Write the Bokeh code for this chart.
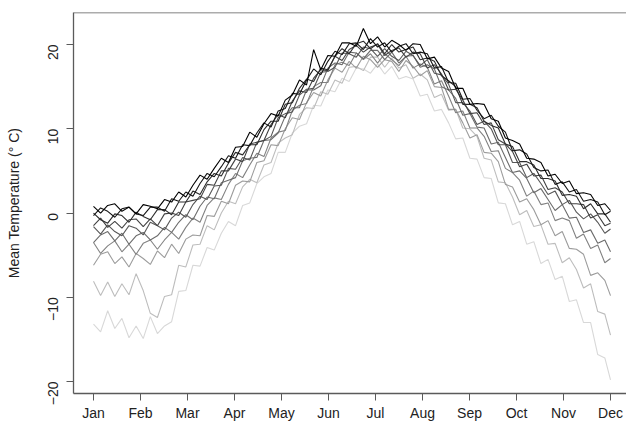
import math

from bokeh.plotting import figure
from bokeh.models import FixedTicker, Span, Range1d
from bokeh.embed import file_html
from bokeh.resources import INLINE

# Month labels placed at equally spaced ticks across the year
MONTHS = ["Jan", "Feb", "Mar", "Apr", "May", "Jun",
          "Jul", "Aug", "Sep", "Oct", "Nov", "Dec"]

# Day-of-year sampling grid shared by every curve
DAYS = list(range(1, 362, 5)) + [365]

# Mean daily temperature curves (deg C), warmest winter first
t01 = [0.8, 0.0, 0.9, 1.1, 0.2, 0.7, -0.1, 1.0, 0.8, 0.5,
       1.6, 1.3, 2.5, 1.9, 3.3, 4.5, 4.0, 5.3, 6.5, 6.0,
       7.8, 7.9, 9.6, 9.0, 10.6, 11.8, 11.5, 13.4, 14.0, 15.8,
       15.2, 19.4, 17.0, 18.7, 18.6, 20.2, 20.2, 19.8, 21.9, 20.1,
       20.9, 19.7, 20.5, 20.0, 19.3, 20.1, 20.0, 18.3, 18.5, 17.2,
       16.8, 14.8, 14.8, 12.9, 13.0, 12.9, 11.2, 10.9, 8.9, 8.6,
       8.2, 6.5, 6.4, 6.0, 4.4, 4.6, 3.5, 3.8, 2.3, 2.4,
       2.2, 0.9, 1.1, 0.3]
t02 = [-0.3, 0.6, 0.2, -0.5, 0.5, 0.7, -0.1, -0.3, 0.7, 0.7,
       0.2, 1.7, 1.4, 2.5, 2.0, 3.5, 4.7, 4.3, 5.5, 6.8,
       6.5, 8.1, 8.0, 9.5, 10.7, 10.2, 12.1, 12.4, 14.2, 14.1,
       15.8, 17.1, 16.4, 18.0, 19.2, 18.8, 20.1, 20.2, 19.4, 20.7,
       19.7, 20.2, 19.1, 19.8, 20.1, 18.9, 19.1, 18.9, 17.2, 17.4,
       15.5, 15.4, 13.5, 13.6, 12.2, 11.2, 11.6, 10.3, 9.6, 7.4,
       7.5, 7.0, 5.4, 5.0, 5.1, 3.4, 3.7, 2.5, 2.8, 1.4,
       1.6, 1.3, -0.2, 0.2]
t03 = [0.0, -0.8, -1.2, -0.1, -0.3, -1.1, 0.1, -0.4, -0.8, 0.4,
       0.4, -0.2, 1.3, 1.3, 2.6, 2.2, 3.7, 4.7, 4.4, 5.9,
       7.2, 6.9, 8.1, 8.1, 9.9, 10.9, 10.9, 12.9, 13.1, 14.8,
       15.9, 15.6, 17.2, 17.0, 18.6, 19.5, 18.9, 20.1, 20.4, 19.5,
       20.1, 18.9, 20.0, 19.1, 19.4, 19.7, 18.2, 18.4, 18.0, 16.3,
       15.7, 15.0, 12.9, 12.9, 12.5, 10.9, 10.4, 10.1, 8.2, 7.9,
       6.1, 6.1, 5.7, 4.1, 4.1, 3.8, 2.1, 2.2, 2.0, 0.5,
       1.1, -0.1, -0.1, -1.1]
t04 = [-1.5, -0.6, -1.7, -1.0, -1.8, -0.8, -0.7, -1.6, -0.7, -1.5,
       -0.1, 0.0, -0.3, 1.3, 1.5, 1.7, 3.4, 3.3, 5.0, 5.0,
       6.4, 6.1, 8.2, 8.4, 8.6, 10.5, 11.7, 11.3, 13.3, 14.5,
       14.3, 16.0, 17.0, 16.9, 18.6, 18.1, 19.4, 19.9, 19.1, 19.7,
       20.0, 18.7, 19.3, 19.6, 18.5, 19.1, 18.9, 17.2, 17.6, 16.5,
       14.6, 14.7, 13.4, 11.8, 11.9, 10.5, 10.7, 8.7, 8.2, 7.3,
       5.5, 5.8, 4.4, 4.5, 2.8, 3.0, 2.5, 1.1, 1.1, 1.0,
       -0.6, -0.2, -1.5, -1.2]
t05 = [-1.6, -2.5, -1.4, -2.2, -2.7, -1.5, -1.8, -2.6, -1.1, -1.5,
       -2.0, -0.6, 0.1, -0.5, 1.0, 2.0, 1.6, 3.2, 3.3, 5.3,
       5.2, 6.6, 6.3, 8.4, 8.6, 9.1, 11.3, 11.8, 12.0, 14.0,
       14.7, 14.8, 16.7, 16.8, 17.3, 19.0, 18.9, 18.5, 19.7, 19.5,
       18.6, 19.5, 18.6, 18.1, 19.2, 18.7, 17.5, 18.2, 16.6, 16.4,
       15.3, 13.1, 13.1, 12.1, 10.5, 10.9, 10.0, 8.1, 8.1, 6.0,
       6.0, 4.2, 4.7, 3.5, 2.2, 2.6, 1.0, 1.5, 0.1, -0.7,
       -0.1, -1.1, -2.4, -1.9]
t06 = [-3.5, -2.6, -2.2, -3.3, -2.4, -3.7, -2.7, -2.3, -3.2, -2.7,
       -1.7, -2.3, -1.1, -0.2, -0.8, 0.8, 1.9, 1.7, 3.6, 3.9,
       4.2, 6.2, 6.5, 6.6, 8.6, 8.7, 9.5, 11.5, 12.5, 12.5,
       14.6, 14.6, 15.1, 17.2, 17.8, 17.6, 19.1, 19.0, 18.3, 19.3,
       19.3, 18.2, 19.1, 17.8, 18.6, 18.7, 17.3, 17.6, 17.1, 15.0,
       14.6, 13.6, 11.6, 11.8, 10.2, 10.1, 8.2, 8.4, 6.6, 4.8,
       5.0, 4.1, 2.4, 2.9, 1.6, 0.3, 1.0, -0.6, -0.5, -2.3,
       -2.0, -3.6, -3.2, -4.6]
t07 = [-3.5, -4.8, -3.9, -3.3, -4.6, -3.7, -4.9, -3.6, -3.2, -4.3,
       -3.2, -2.3, -3.1, -1.7, -0.6, -1.1, 0.9, 1.8, 1.6, 3.4,
       4.7, 4.2, 5.7, 7.1, 6.7, 8.9, 9.6, 9.8, 12.2, 12.8,
       13.0, 15.0, 15.5, 15.5, 17.6, 17.9, 17.5, 19.0, 18.2, 18.9,
       17.8, 18.9, 18.2, 17.5, 18.6, 17.2, 17.7, 17.3, 15.3, 15.7,
       13.9, 11.9, 12.1, 10.1, 10.1, 9.1, 7.3, 7.4, 5.3, 4.8,
       3.9, 2.0, 2.6, 1.0, 1.2, -0.9, -0.6, -0.9, -3.0, -2.5,
       -4.2, -3.8, -5.9, -5.4]
t08 = [-6.2, -4.9, -4.6, -6.0, -5.2, -6.4, -4.8, -5.4, -6.1, -4.5,
       -5.3, -3.7, -4.8, -3.1, -2.6, -2.7, -0.3, -0.4, 1.4, 1.1,
       3.3, 3.8, 3.7, 6.0, 6.2, 8.1, 8.0, 10.0, 11.3, 11.1,
       13.1, 14.3, 13.9, 15.8, 17.2, 16.7, 18.0, 17.2, 18.6, 18.2,
       17.3, 18.2, 18.0, 16.8, 18.1, 17.4, 16.3, 16.9, 15.0, 14.9,
       12.3, 12.3, 10.7, 8.9, 9.3, 7.2, 7.1, 6.1, 3.4, 3.1,
       1.3, 1.7, 0.4, -1.4, -0.9, -2.7, -2.2, -4.2, -4.3, -4.9,
       -7.4, -7.1, -8.0, -9.8]
t09 = [-8.1, -9.8, -8.2, -9.9, -8.4, -9.7, -7.2, -9.2, -11.9, -12.4,
       -9.9, -9.7, -6.2, -6.4, -3.8, -3.7, -1.5, -2.0, 0.0, 1.4,
       1.1, 3.1, 4.0, 3.6, 5.7, 6.0, 8.3, 8.9, 9.3, 11.7,
       12.5, 12.4, 14.4, 14.1, 15.8, 15.4, 17.3, 17.4, 16.9, 18.5,
       18.5, 17.3, 18.4, 17.2, 17.6, 16.0, 16.5, 15.8, 13.7, 14.1,
       12.2, 12.3, 10.1, 10.0, 9.1, 6.5, 6.3, 3.7, 3.6, 1.9,
       -0.2, 0.3, -1.6, -1.4, -3.7, -3.6, -5.9, -5.3, -6.7, -8.9,
       -8.4, -11.7, -12.0, -14.5]
t10 = [-13.2, -14.1, -11.6, -13.7, -12.5, -14.8, -13.4, -14.9, -12.3, -14.3,
       -13.4, -12.9, -9.3, -9.2, -6.2, -6.3, -4.1, -4.4, -2.4, -1.0,
       -1.5, 0.9, 1.2, 3.5, 4.3, 4.7, 7.2, 7.2, 9.5, 10.3,
       10.6, 12.8, 12.7, 14.6, 14.4, 16.0, 15.6, 17.2, 17.1, 16.6,
       17.7, 16.5, 17.4, 15.9, 16.2, 15.9, 13.9, 14.1, 12.1, 12.3,
       10.7, 8.8, 8.9, 6.5, 6.4, 4.2, 4.1, 1.2, 1.1, -1.4,
       -1.0, -3.7, -3.4, -6.0, -5.5, -7.9, -7.5, -10.5, -10.3, -13.0,
       -13.0, -16.8, -17.2, -19.8]

CURVES = [t01, t02, t03, t04, t05, t06, t07, t08, t09, t10]
GREYS = ["#000000", "#161616", "#2c2c2c", "#424242", "#575757",
         "#6c6c6c", "#828282", "#9c9c9c", "#bdbdbd", "#d8d8d8"]

# x in month units so that each month label sits on an integer tick
x = [(d - 1) / 364 * 11 for d in DAYS]

FONT = "Liberation Sans"
FRAME = "#5a5a5a"
TEXT = "#222222"

p = figure(width=626, height=428, output_backend="svg", toolbar_location=None,
           title=None,
           x_range=Range1d(-0.4255, 11.34), y_range=Range1d(-21.42, 23.8),
           min_border_left=73, min_border_right=0,
           min_border_top=12, min_border_bottom=35)
p.outline_line_color = None
p.grid.visible = False
p.background_fill_color = "white"
p.border_fill_color = "white"

# lightest curves first so the dark ones sit on top
for ys, col in reversed(list(zip(CURVES, GREYS))):
    p.line(x, ys, line_color=col, line_width=1.1)

xa = p.xaxis[0]
xa.ticker = FixedTicker(ticks=list(range(12)))
xa.major_label_overrides = {i: m for i, m in enumerate(MONTHS)}
xa.minor_tick_line_color = None
xa.major_tick_in = 0
xa.major_tick_out = 7
xa.axis_line_color = FRAME
xa.axis_line_width = 1.3
xa.major_tick_line_color = FRAME
xa.major_label_text_font = FONT
xa.major_label_text_font_size = "14px"
xa.major_label_text_color = TEXT
xa.major_label_standoff = 4

ya = p.yaxis[0]
ya.ticker = FixedTicker(ticks=[-20, -10, 0, 10, 20])
ya.minor_tick_line_color = None
ya.major_tick_in = 0
ya.major_tick_out = 7
ya.axis_line_color = FRAME
ya.axis_line_width = 1.3
ya.major_tick_line_color = FRAME
ya.major_label_orientation = math.pi / 2
ya.major_label_text_font = FONT
ya.major_label_text_font_size = "14px"
ya.major_label_text_color = TEXT
ya.major_label_standoff = 13
ya.axis_label = "Mean Temperature (\u00b0 C)"
ya.axis_label_text_font = FONT
ya.axis_label_text_font_size = "14px"
ya.axis_label_text_font_style = "normal"
ya.axis_label_text_color = TEXT
ya.axis_label_standoff = 19

# top edge of the plotting box
p.add_layout(Span(location=23.8, dimension="width",
                  line_color=FRAME, line_width=1.3))

open("out.html", "w").write(file_html(p, INLINE))
